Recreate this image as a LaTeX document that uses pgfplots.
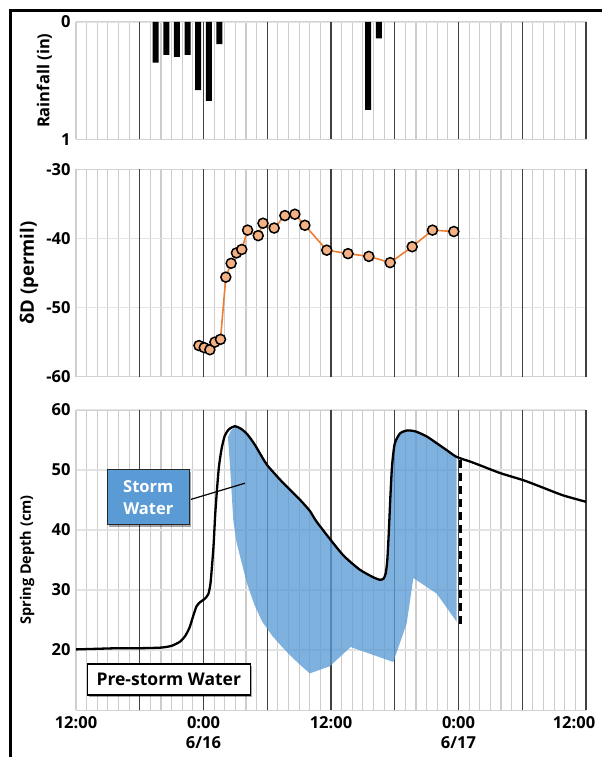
\documentclass[border=0pt]{standalone}
\usepackage{fontspec}
\setmainfont{Open Sans}
\usepackage{pgfplots}
\pgfplotsset{compat=1.18}
\usetikzlibrary{shadows}
\definecolor{orangeline}{HTML}{ED7D31}
\definecolor{orangefill}{HTML}{F4B183}
\definecolor{stormblue}{HTML}{5B9BD5}
\pgfplotsset{
  panel/.style={
    scale only axis, width=510pt, xmin=0, xmax=48,
    axis line style={draw=gray!35, line width=1pt},
    major tick length=0pt, minor tick length=0pt,
    xtick={0,12,24,36,48},
    minor xtick={0,1,...,48},
    xminorgrids=true,
    minor grid style={draw=gray!40, line width=1.1pt},
    ymajorgrids=true,
    major grid style={draw=gray!22, line width=1.2pt},
    extra x ticks={6,12,...,48},
    extra x tick labels={},
    extra x tick style={xmajorgrids=true, major grid style={draw=black!75, line width=1.1pt}},
    tick label style={font=\fontsize{16.5}{20}\selectfont\bfseries},
    /pgf/number format/assume math mode=true,
    yticklabel style={xshift=-2pt},
    anchor=south west,
  }
}
\begin{document}
\begin{tikzpicture}
\path[use as bounding box] (0,0) rectangle (602pt,757pt);
\draw[line width=2.5pt] (10.5pt,0pt) -- (10.5pt,746.5pt) -- (602pt,746.5pt);

% Rainfall
\begin{axis}[panel, at={(76pt,617.7pt)}, height=117.3pt,
  y dir=reverse, ymin=0, ymax=1, ytick={0,1}, xticklabels={},
  ylabel={Rainfall (in)},
  ylabel style={at={(axis description cs:-0.062,0.5)}, anchor=center, font=\fontsize{16.5}{18}\selectfont\bfseries}]
\addplot[ybar, bar width=6pt, bar shift=0pt, fill=black, draw=none] coordinates {
(7.5,0.347) (8.5,0.281) (9.5,0.298) (10.5,0.281) (11.5,0.58) (12.5,0.673) (13.5,0.188)
(27.5,0.75) (28.5,0.139)};
\end{axis}

% Delta D
\begin{axis}[panel, at={(76pt,380.3pt)}, height=207.4pt,
  ymin=-60, ymax=-30, ytick={-60,-50,-40,-30}, xticklabels={},
  ylabel={δD (permil)},
  ylabel style={at={(axis description cs:-0.092,0.5)}, anchor=center, font=\fontsize{18.5}{20}\selectfont\bfseries}]
\addplot[color=orangeline, line width=1.6pt, mark=*, mark size=5pt,
  mark options={draw=black, fill=orangefill, line width=1.5pt, solid}] coordinates {
(11.57,-55.5) (12.07,-55.8) (12.6,-56.1) (13.07,-55.0) (13.6,-54.6)
(14.1,-45.6) (14.6,-43.6) (15.1,-42.1) (15.6,-41.6) (16.15,-38.8)
(17.15,-39.6) (17.6,-37.8) (18.65,-38.5) (19.66,-36.7) (20.6,-36.5)
(21.54,-38.1) (23.6,-41.7) (25.6,-42.2) (27.56,-42.6) (29.57,-43.5)
(31.64,-41.2) (33.55,-38.8) (35.56,-39.0)};
\end{axis}

% Spring depth
\begin{axis}[panel, at={(76pt,47pt)}, height=300pt,
  ymin=10, ymax=60, ytick={20,30,40,50,60},
  xticklabels={12:00,{0:00\\6/16},12:00,{0:00\\6/17},{\hspace*{-24pt}12:00}},
  xticklabel style={align=center, yshift=-3pt},
  ylabel={Spring Depth (cm)},
  ylabel style={at={(axis description cs:-0.096,0.5)}, anchor=center, font=\fontsize{14.5}{16}\selectfont\bfseries}]
\addplot[fill=stormblue, fill opacity=0.78, draw=none] coordinates {
(14.3,55.5) (14.6,56.6) (14.95,57.2) (15.5,56.9) (16.1,56.0) (16.8,54.3) (17.5,52.2)
(18,50.8) (19.2,48.4) (20.2,46.6) (21.1,45.0) (22.0,43.2) (22.6,41.5) (23.9,38.5)
(25.2,35.7) (26.7,33.4) (28.0,32.1) (28.6,31.7) (28.95,31.9) (29.15,32.8) (29.3,35)
(29.45,40) (29.6,46) (29.75,50.8) (30.0,54.4) (30.5,56.1) (31.2,56.6) (32.0,56.4)
(33.0,55.6) (34.0,54.4) (34.9,53.3) (35.83,52.2)
(35.83,24.7) (33.95,29.4) (31.75,32.0) (31.12,24.4) (29.86,18.0) (25.85,20.5)
(23.9,17.3) (22.0,16.1) (21.3,17.2) (20.5,18.5) (19.4,20.5) (18.5,22.3) (17.5,24.8)
(16.8,27.5) (16.07,31.2) (15.6,34.5) (15.1,38) (14.8,41.7) (14.5,50.6)};
\addplot[black, line width=2.3pt, smooth, tension=0.4] coordinates {
(0,20.1) (2,20.2) (4,20.3) (6,20.3) (8,20.4) (9,20.7) (9.8,21.4) (10.3,22.4)
(10.7,23.8) (11.0,25.5) (11.35,27.3) (11.7,28.0) (12.1,28.5) (12.45,29.3)
(12.65,31) (12.8,34) (12.95,37.5) (13.1,42.5) (13.25,46.3) (13.45,50.5) (13.7,53.5)
(14.0,55.7) (14.4,56.8) (14.95,57.3) (15.5,56.9) (16.1,56.0) (16.8,54.3) (17.5,52.2)
(18,50.8) (19.2,48.4) (20.2,46.6) (21.1,45.0) (22.0,43.2) (22.6,41.5) (23.9,38.5)
(25.2,35.7) (26.7,33.4) (28.0,32.1) (28.6,31.7) (28.95,31.9) (29.15,32.8) (29.3,35)
(29.45,40) (29.6,46) (29.75,50.8) (30.0,54.4) (30.5,56.1) (31.2,56.6) (32.0,56.4)
(33.0,55.6) (34.0,54.4) (34.9,53.3) (35.8,52.2) (37.1,51.4) (38,50.8) (39.9,49.5)
(42.1,48.3) (43.6,47.3) (45.8,45.8) (48,44.7)};
\addplot[black, line width=2.3pt, dash pattern=on 8pt off 5pt] coordinates {(36.2,51.7) (36.2,23.6)};
\draw[black, line width=1.2pt] (axis cs:10.82,45.1) -- (axis cs:15.9,47.8);
\node[draw=black!85, line width=1.2pt, fill=stormblue, text=white,
  font=\fontsize{16.5}{22}\selectfont\bfseries, align=center,
  minimum width=82pt, minimum height=55pt, inner sep=0pt,
  drop shadow={shadow xshift=2pt, shadow yshift=-2pt, fill=black, opacity=0.35}]
  at (axis cs:6.8,45.45) {Storm\\Water};
\node[draw=black, line width=1.5pt, fill=white,
  font=\fontsize{17.5}{19}\selectfont\bfseries,
  minimum width=163pt, minimum height=31pt, inner sep=0pt,
  drop shadow={shadow xshift=2pt, shadow yshift=-2pt, fill=black, opacity=0.35}]
  at (axis cs:8.73,15.05) {Pre-storm Water};
\end{axis}
\end{tikzpicture}
\end{document}
